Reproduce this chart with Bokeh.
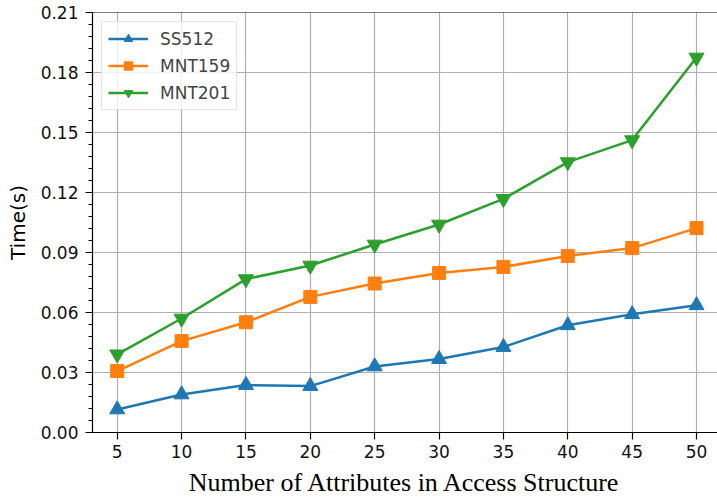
from bokeh.plotting import figure
from bokeh.models import Range1d, FixedTicker, PrintfTickFormatter, Span, Legend, LegendItem
from bokeh.embed import file_html
from bokeh.resources import INLINE

# Data
attributes = [5, 10, 15, 20, 25, 30, 35, 40, 45, 50]
ss512 = [0.0115, 0.0190, 0.0237, 0.0232, 0.0330, 0.0367, 0.0427, 0.0536, 0.0591, 0.0636]
mnt159 = [0.0307, 0.0457, 0.0551, 0.0678, 0.0745, 0.0798, 0.0828, 0.0883, 0.0922, 0.1022]
mnt201 = [0.0391, 0.0570, 0.0767, 0.0835, 0.0940, 0.1040, 0.1168, 0.1352, 0.1462, 0.1875]
x_ticks = [5, 10, 15, 20, 25, 30, 35, 40, 45, 50]
y_ticks = [0.0, 0.03, 0.06, 0.09, 0.12, 0.15, 0.18, 0.21]
y_minor = [round(i * 0.006, 3) for i in range(36)]

blue, orange, green = "#1f77b4", "#ff7f0e", "#2ca02c"

p = figure(width=717, height=501, output_backend="svg", toolbar_location=None,
           x_range=Range1d(3.08, 51.63), y_range=Range1d(0, 0.21),
           min_border_left=92, min_border_right=0, min_border_top=12, min_border_bottom=69)
p.outline_line_color = None
p.background_fill_color = "white"
p.border_fill_color = "white"

# top spine
p.add_layout(Span(location=0.21, dimension="width", line_color="black", line_width=1.2))

# grids
for g in (p.xgrid, p.ygrid):
    g.grid_line_color = "#b0b0b0"
    g.grid_line_width = 1.2
p.xgrid.ticker = FixedTicker(ticks=x_ticks)
p.ygrid.ticker = FixedTicker(ticks=y_ticks)

# axes
p.xaxis.ticker = FixedTicker(ticks=x_ticks)
p.yaxis.ticker = FixedTicker(ticks=y_ticks, minor_ticks=y_minor)
p.yaxis.formatter = PrintfTickFormatter(format="%.2f")
for ax in (p.xaxis[0], p.yaxis[0]):
    ax.axis_line_color = "black"
    ax.axis_line_width = 1.2
    ax.major_tick_line_color = "black"
    ax.major_tick_line_width = 1.2
    ax.major_tick_out = 7
    ax.major_tick_in = 0
    ax.major_label_text_font = "DejaVu Sans"
    ax.major_label_text_font_size = "17px"
    ax.major_label_text_color = "#111111"
    ax.axis_label_text_font_style = "normal"
    ax.axis_label_text_color = "black"
p.xaxis.minor_tick_line_color = None
p.yaxis.minor_tick_line_color = "black"
p.yaxis.minor_tick_out = 4
p.yaxis.minor_tick_in = 0
p.yaxis.major_label_standoff = 7
p.xaxis.major_label_standoff = 5

p.yaxis.axis_label = "Time(s)"
p.yaxis.axis_label_text_font = "DejaVu Sans"
p.yaxis.axis_label_text_font_size = "20px"
p.yaxis.axis_label_standoff = 8

p.xaxis.axis_label = "Number of Attributes in Access Structure"
p.xaxis.axis_label_text_font = "Liberation Serif"
p.xaxis.axis_label_text_font_size = "26px"
p.xaxis.axis_label_standoff = 7

# series
l1 = p.line(attributes, ss512, line_color=blue, line_width=2.5)
m1 = p.scatter(attributes, ss512, marker="triangle", size=15, fill_color=blue, line_color=blue)
l2 = p.line(attributes, mnt159, line_color=orange, line_width=2.5)
m2 = p.scatter(attributes, mnt159, marker="square", size=13, fill_color=orange, line_color=orange)
l3 = p.line(attributes, mnt201, line_color=green, line_width=2.5)
m3 = p.scatter(attributes, mnt201, marker="inverted_triangle", size=15, fill_color=green, line_color=green)

legend = Legend(items=[
    LegendItem(label="SS512", renderers=[l1, m1]),
    LegendItem(label="MNT159", renderers=[l2, m2]),
    LegendItem(label="MNT201", renderers=[l3, m3]),
], location="top_left")
legend.margin = 9
legend.padding = 6
legend.spacing = 6
legend.glyph_width = 40
legend.glyph_height = 21
legend.label_height = 21
legend.label_standoff = 12
legend.label_text_font = "DejaVu Sans"
legend.label_text_font_size = "17px"
legend.border_line_color = "#cccccc"
legend.border_line_width = 1
legend.background_fill_color = "white"
legend.background_fill_alpha = 0.8
p.add_layout(legend, "center")

open("out.html", "w").write(file_html(p, INLINE))
